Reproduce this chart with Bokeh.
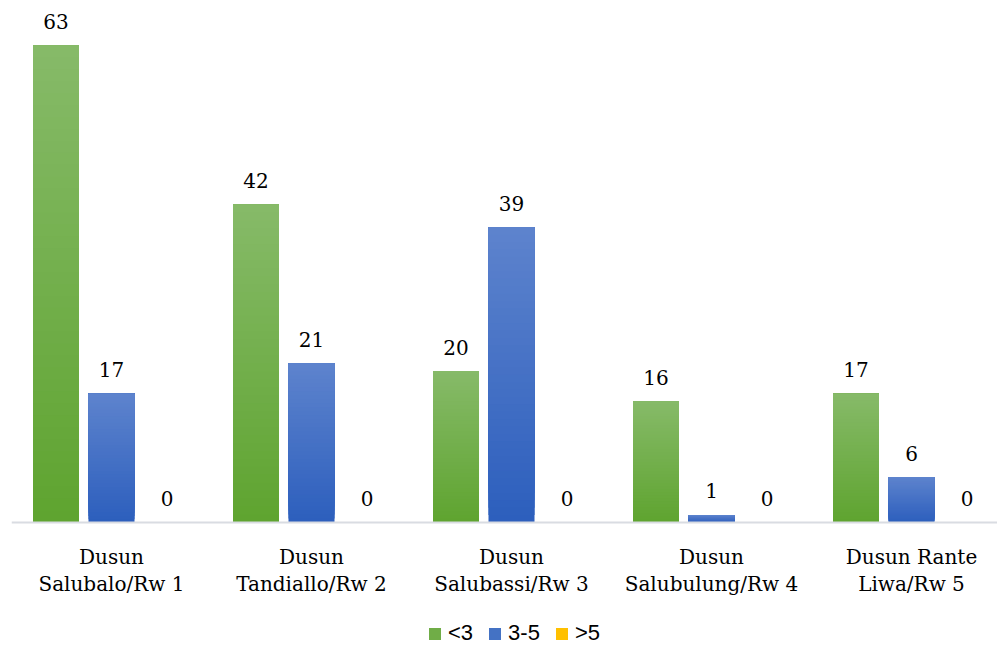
import math
from bokeh.plotting import figure
from bokeh.models import ColumnDataSource, Range1d, Legend, LegendItem, Span
from bokeh.core.properties import value
from bokeh.embed import file_html
from bokeh.resources import INLINE

# --- data -------------------------------------------------------------
categories = ["Dusun\nSalubalo/Rw 1", "Dusun\nTandiallo/Rw 2", "Dusun\nSalubassi/Rw 3",
              "Dusun\nSalubulung/Rw 4", "Dusun Rante\nLiwa/Rw 5"]
series_names = ["<3", "3-5", ">5"]
under_3 = [63, 42, 20, 16, 17]
from_3_to_5 = [17, 21, 39, 1, 6]
over_5 = [0, 0, 0, 0, 0]

# --- styling ----------------------------------------------------------
SERIF = "DejaVu Serif"
SANS = "Liberation Sans"
# (top colour, bottom colour, legend colour) per series
palette = [("#86ba68", "#5fa430", "#70ad47"),
           ("#5d83cd", "#2d5fbd", "#4472c4"),
           ("#ffd24f", "#f0b400", "#ffc000")]
offsets = [-0.2775, 0.0, 0.2775]
bar_width = 0.23
n_slices = 40

positions = list(range(1, len(categories) + 1))

# the frame fills the whole page; the band below zero holds the category
# labels and the legend
p = figure(width=997, height=646, output_backend="svg", toolbar_location=None,
           x_range=Range1d(0.5, 5.43), y_range=Range1d(-16.38, 68.94),
           x_axis_location=None, y_axis_location=None,
           min_border_left=11, min_border_right=0,
           min_border_top=0, min_border_bottom=0)
p.outline_line_color = None
p.grid.grid_line_color = None
p.background_fill_color = "white"
p.border_fill_color = "white"


def mix(c1, c2, t):
    a = [int(c1[i:i + 2], 16) for i in (1, 3, 5)]
    b = [int(c2[i:i + 2], 16) for i in (1, 3, 5)]
    return "#%02x%02x%02x" % tuple(round(a[j] + (b[j] - a[j]) * t) for j in range(3))


all_series = [under_3, from_3_to_5, over_5]
legend_items = []
for vals, off, (top_c, bot_c, leg_c), name in zip(all_series, offsets, palette, series_names):
    xs = [x + off for x in positions]
    # vertical gradient: successive layers from the bottom up, each reaching the bar top
    left, right, bottom, top, color = [], [], [], [], []
    for x, v in zip(xs, vals):
        if v <= 0:
            continue
        for k in range(n_slices):
            left.append(x - bar_width / 2)
            right.append(x + bar_width / 2)
            bottom.append(v * k / n_slices)
            top.append(v)
            color.append(mix(bot_c, top_c, k / (n_slices - 1)))
    src = ColumnDataSource(dict(left=left, right=right, bottom=bottom, top=top, color=color))
    p.quad(left="left", right="right", bottom="bottom", top="top", fill_color="color",
           line_color=None, source=src)

    # value labels above each bar
    lab = ColumnDataSource(dict(x=xs, y=vals, t=[str(v) for v in vals]))
    p.text(x="x", y="y", text="t", source=lab, text_align="center",
           text_baseline="alphabetic", y_offset=-24, text_font=value(SERIF),
           text_font_size="20px", text_color="#000000")

    # legend swatch (a renderer with no visible extent)
    nan = float("nan")
    dummy = p.quad(left=[nan], right=[nan], bottom=[nan], top=[nan],
                   fill_color=leg_c, line_color=None)
    legend_items.append(LegendItem(label=name, renderers=[dummy]))

# category axis: baseline and two-line labels
p.add_layout(Span(location=0, dimension="width", line_color="#d9dce2", line_width=2))
cat_src = ColumnDataSource(dict(x=positions, y=[0] * len(positions), t=categories))
p.text(x="x", y="y", text="t", source=cat_src, text_align="center", text_baseline="top",
       y_offset=23, text_font=value(SERIF), text_font_size="20px",
       text_line_height=1.1, text_color="#000000")

legend = Legend(items=legend_items, orientation="horizontal", location=(416, 0),
                border_line_color=None, background_fill_alpha=0,
                label_text_font=SANS, label_text_font_size="22px",
                label_text_color="#000000", glyph_width=15, glyph_height=15,
                label_standoff=6, spacing=14, padding=0, margin=0)
p.add_layout(legend, "center")

open("out.html", "w").write(file_html(p, INLINE))
